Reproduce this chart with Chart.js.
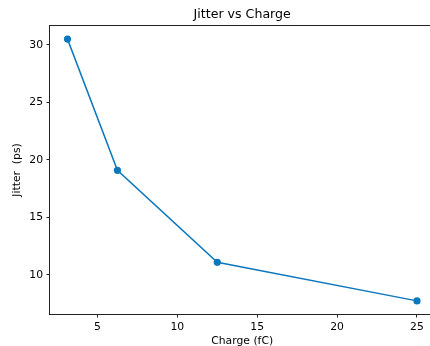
<!DOCTYPE html>
<html>
<head>
<meta charset="utf-8">
<script src="https://cdn.jsdelivr.net/npm/chart.js"></script>
<style>
  html, body { margin:0; padding:0; background:#fff; overflow:hidden; }
  #wrap { position:relative; width:438px; height:346px; }
</style>
</head>
<body>
<div id="wrap"><canvas id="chart" width="438" height="346"></canvas></div>
<script>
// data
const charge = [3.125, 6.25, 12.5, 25];        // fC
const jitter = [30.5, 19.1, 11.1, 7.75];       // ps
const xTicks = [5, 10, 15, 20, 25];
const yTicks = [10, 15, 20, 25, 30];

const FONT = 'DejaVu Sans';
const BLUE = '#0b77bd';

// matplotlib-like box round the plot + centred title
const boxPlugin = {
  id:'box',
  afterDraw(chart){
    const {ctx, chartArea:a} = chart;
    ctx.save();
    ctx.strokeStyle = '#222'; ctx.lineWidth = 1;
    ctx.strokeRect(a.left - 0.5, a.top - 0.5, a.right - a.left, a.bottom - a.top + 1);
    ctx.fillStyle = '#000';
    ctx.font = `12.6px "${FONT}"`;
    ctx.textAlign = 'center'; ctx.textBaseline = 'middle';
    ctx.fillText('Jitter vs Charge', (a.left + a.right) / 2, 15);
    ctx.restore();
  }
};

new Chart(document.getElementById('chart'), {
  type:'scatter',
  data:{
    datasets:[{
      data: charge.map((c,i)=>({x:c, y:jitter[i]})),
      showLine:true,
      borderColor:BLUE, backgroundColor:BLUE,
      borderWidth:1.5, pointRadius:3.6, pointHoverRadius:3.6,
      pointBorderWidth:0
    }]
  },
  options:{
    responsive:false, animation:false,
    layout:{padding:{top:26, left:0, right:0, bottom:0}},
    plugins:{legend:{display:false}, tooltip:{enabled:false}, title:{display:false}},
    scales:{
      x:{
        type:'linear', min:2.03, max:26.09,
        afterBuildTicks: s => { s.ticks = xTicks.map(v=>({value:v})); },
        afterFit: s => { s.height = 32; s.paddingLeft = 0; s.paddingRight = 0; },
        grid:{drawOnChartArea:false, drawTicks:true, tickLength:3.5, color:'#222'},
        border:{display:false},
        ticks:{color:'#000', padding:3.5, maxRotation:0, autoSkip:false, font:{family:FONT, size:10.8}},
        title:{display:true, text:'Charge (fC)', color:'#000', padding:{top:0, bottom:-1.2}, font:{family:FONT, size:10.8}}
      },
      y:{
        type:'linear', min:6.61, max:31.64,
        afterBuildTicks: s => { s.ticks = yTicks.map(v=>({value:v})); },
        afterFit: s => { s.width = 50; s.paddingTop = 0; s.paddingBottom = 0; },
        grid:{drawOnChartArea:false, drawTicks:true, tickLength:3.5, color:'#222'},
        border:{display:false},
        ticks:{color:'#000', padding:3.5, autoSkip:false, font:{family:FONT, size:10.8}},
        title:{display:true, text:'Jitter  (ps)', color:'#000', padding:{top:10.5, bottom:0}, font:{family:FONT, size:10.8}}
      }
    }
  },
  plugins:[boxPlugin]
});
</script>
</body>
</html>
